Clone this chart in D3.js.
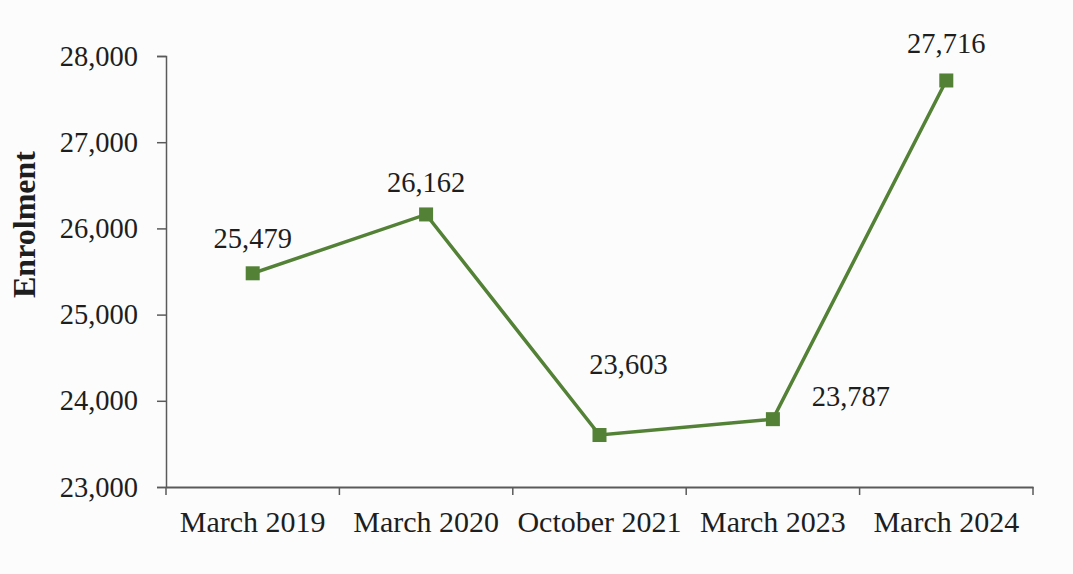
<!DOCTYPE html>
<html>
<head>
<meta charset="utf-8">
<script src="https://cdn.jsdelivr.net/npm/d3@7"></script>
<style>
  html, body { margin: 0; padding: 0; background: #fcfcfc; }
  svg { display: block; }
  text { font-family: "Liberation Serif", "Times New Roman", serif; fill: #1e1e1e; }
</style>
</head>
<body>
<svg id="chart" width="1073" height="574"></svg>
<script>
// Enrolment counts by survey period
const categories = ["March 2019", "March 2020", "October 2021", "March 2023", "March 2024"];
const enrolment = [25479, 26162, 23603, 23787, 27716];
const yTicks = [23000, 24000, 25000, 26000, 27000, 28000];

const W = 1073, H = 574;
const margin = { left: 166, right: 40, top: 56, bottom: 87 };
const svg = d3.select("#chart");

svg.append("rect").attr("width", W).attr("height", H).attr("fill", "#fcfcfc");

const x = d3.scaleBand()
  .domain(categories)
  .range([margin.left, W - margin.right])
  .padding(0);

const y = d3.scaleLinear()
  .domain([23000, 28000])
  .range([H - margin.bottom, margin.top]);

const fmt = d3.format(",");
const axisColor = "#5a5a5a";

// Y axis
const yAxis = svg.append("g")
  .attr("transform", `translate(${margin.left},0)`)
  .call(d3.axisLeft(y).tickValues(yTicks).tickFormat(fmt).tickSize(9).tickPadding(19));
yAxis.select(".domain").attr("stroke", axisColor).attr("stroke-width", 1.5);
yAxis.selectAll(".tick line").attr("stroke", axisColor).attr("stroke-width", 1.5);
yAxis.selectAll(".tick text")
  .attr("font-size", 28.5)
  .attr("fill", "#1e1e1e")
  .style("font-family", "'Liberation Serif', serif");

// X axis: labels centred in bands, ticks at band boundaries
const xAxis = svg.append("g")
  .attr("transform", `translate(0,${y(23000)})`)
  .call(d3.axisBottom(x).tickSize(0).tickPadding(24));
xAxis.select(".domain").attr("stroke", axisColor).attr("stroke-width", 2);
xAxis.selectAll(".tick text")
  .attr("font-size", 30)
  .attr("fill", "#1e1e1e")
  .style("font-family", "'Liberation Serif', serif");

const boundaries = categories.map(c => x(c)).concat([x.range()[1]]);
xAxis.selectAll(".bound")
  .data(boundaries)
  .join("line")
  .attr("class", "bound")
  .attr("x1", d => d).attr("x2", d => d)
  .attr("y1", 0).attr("y2", 8)
  .attr("stroke", axisColor).attr("stroke-width", 1.5);

// Y axis title
svg.append("text")
  .attr("transform", `translate(35,${(152 + 297) / 2}) rotate(-90)`)
  .attr("text-anchor", "middle")
  .attr("font-size", 32)
  .attr("font-weight", "bold")
  .text("Enrolment");

// Series
const green = "#538135";
const pts = categories.map((c, i) => ({ c, v: enrolment[i] }));
const cx = d => x(d.c) + x.bandwidth() / 2;

svg.append("path")
  .datum(pts)
  .attr("fill", "none")
  .attr("stroke", green)
  .attr("stroke-width", 3.5)
  .attr("d", d3.line().x(cx).y(d => y(d.v)));

const ms = 14;
svg.selectAll(".marker")
  .data(pts)
  .join("rect")
  .attr("class", "marker")
  .attr("x", d => cx(d) - ms / 2)
  .attr("y", d => y(d.v) - ms / 2)
  .attr("width", ms).attr("height", ms)
  .attr("fill", green);

// Value labels, nudged so they clear the line
const labelOffsets = [[0, -25], [0, -22], [29, -61], [78, -13], [0, -27]];
svg.selectAll(".vlabel")
  .data(pts)
  .join("text")
  .attr("class", "vlabel")
  .attr("x", (d, i) => cx(d) + labelOffsets[i][0])
  .attr("y", (d, i) => y(d.v) + labelOffsets[i][1])
  .attr("text-anchor", "middle")
  .attr("font-size", 28.5)
  .text(d => fmt(d.v));
</script>
</body>
</html>
